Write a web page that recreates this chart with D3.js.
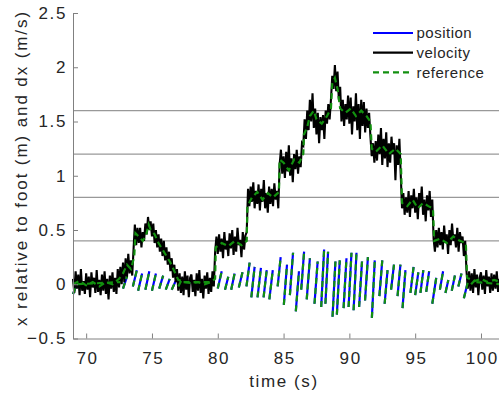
<!DOCTYPE html>
<html>
<head>
<meta charset="utf-8">
<script src="https://cdn.jsdelivr.net/npm/d3@7/dist/d3.min.js"></script>
<style>
  body { margin: 0; background: #fff; }
  svg { display: block; }
  text { font-family: "Liberation Sans", Arial, Helvetica, sans-serif; fill: #262626; }
</style>
</head>
<body>
<svg id="chart" width="499" height="400"></svg>
<script>
// ---- data ----------------------------------------------------------
const xTicks = [70, 75, 80, 85, 90, 95, 100];
const yTicks = [-0.5, 0, 0.5, 1, 1.5, 2, 2.5];
const levelLines = [0.4, 0.8, 1.2, 1.6];

// measured treadmill velocity, sampled every 0.1 s from 69.0 s
const velStart = 69.0;
const velStep = 0.1;
const velocity = [
  0.05,-0.08,0.12,-0.04,0.09,-0.10,0.14,-0.06,0.03,-0.09,
  0.10,-0.05,0.07,-0.12,0.11,-0.03,0.06,-0.08,0.13,-0.07,
  0.04,-0.10,0.09,-0.06,0.12,-0.09,0.05,-0.14,0.08,-0.04,
  0.11,-0.07,0.06,-0.09,0.14,-0.03,0.16,0.00,0.20,0.02,
  0.24,0.06,0.28,0.10,0.22,0.08,0.32,0.55,0.36,0.52,
  0.38,0.52,0.34,0.48,0.40,0.56,0.46,0.62,0.50,0.58,
  0.44,0.56,0.38,0.50,0.34,0.46,0.30,0.42,0.26,0.40,
  0.22,0.34,0.18,0.30,0.12,0.24,0.06,0.18,0.02,0.14,
  -0.06,0.10,-0.08,0.07,-0.10,0.12,-0.05,0.08,-0.12,0.06,
  0.09,-0.07,0.04,-0.11,0.10,-0.06,0.13,-0.08,0.05,-0.13,
  0.08,-0.04,0.11,-0.09,0.06,-0.07,0.12,-0.02,0.30,0.44,
  0.28,0.46,0.30,0.42,0.24,0.48,0.32,0.40,0.26,0.47,
  0.33,0.50,0.27,0.44,0.30,0.52,0.36,0.41,0.25,0.48,
  0.32,0.45,0.48,0.88,0.72,0.90,0.76,0.94,0.70,0.86,
  0.74,0.92,0.68,0.88,0.76,0.96,0.70,0.84,0.66,0.90,
  0.74,0.88,0.72,0.93,0.78,0.86,0.70,1.10,1.24,1.02,
  1.18,0.98,1.22,1.04,1.28,1.00,1.16,0.94,1.20,1.06,
  1.24,1.02,1.18,1.08,1.30,1.28,1.52,1.34,1.60,1.42,
  1.70,1.50,1.76,1.44,1.62,1.38,1.58,1.30,1.54,1.42,
  1.56,1.34,1.60,1.48,1.66,1.52,1.70,1.92,1.80,2.02,
  1.78,1.96,1.70,1.82,1.50,1.70,1.46,1.66,1.52,1.74,
  1.48,1.72,1.38,1.64,1.50,1.76,1.42,1.66,1.34,1.70,
  1.46,1.68,1.40,1.62,1.44,1.58,1.36,1.18,1.30,1.12,
  1.32,1.14,1.38,1.20,1.44,1.10,1.34,1.16,1.40,1.08,
  1.30,1.12,1.36,1.20,1.30,0.96,1.28,1.10,1.34,1.02,
  0.70,0.84,0.64,0.80,0.66,0.86,0.62,0.82,0.70,0.88,
  0.66,0.80,0.60,0.84,0.72,0.90,0.64,0.78,0.58,0.82,
  0.68,0.86,0.62,0.78,0.42,0.30,0.50,0.34,0.52,0.36,
  0.48,0.32,0.54,0.38,0.46,0.28,0.50,0.36,0.56,0.40,
  0.46,0.34,0.52,0.30,0.48,0.38,0.44,0.26,0.40,0.12,
  -0.04,0.12,-0.06,0.10,-0.08,0.14,-0.03,0.09,-0.10,0.06,
  0.11,-0.05,0.08,-0.09,0.13,-0.02,0.07,-0.08,0.10,-0.06,
  0.09,-0.04,0.12,-0.07,0.05,-0.02
];

// commanded (reference) belt speed
const refVelTime = [
  69.0,69.5,70.0,70.5,71.0,71.5,72.0,72.5,72.8,73.1,73.4,73.65,73.75,74.0,74.3,74.55,74.75,74.9,
  75.2,75.5,75.8,76.1,76.4,76.7,77.0,77.5,78.0,78.5,79.0,79.5,79.8,79.85,80.3,80.8,81.3,81.8,82.2,
  82.25,82.6,83.0,83.4,83.8,84.2,84.65,84.7,85.0,85.4,85.8,86.2,86.5,86.55,86.8,87.0,87.3,87.5,87.9,
  88.3,88.6,88.7,88.9,89.1,89.3,89.7,90.1,90.5,90.9,91.3,91.6,91.7,92.0,92.5,93.0,93.5,93.9,94.0,
  94.4,94.8,95.2,95.6,96.0,96.35,96.45,96.9,97.4,97.9,98.4,98.85,98.95,99.5,100.0,100.5,101.0,101.5
];
const refVelValue = [
  0.00,0.03,-0.01,0.02,-0.02,0.02,0.00,0.05,0.10,0.18,0.14,0.25,0.47,0.44,0.40,0.45,0.55,0.50,
  0.46,0.38,0.32,0.26,0.20,0.12,0.04,0.02,0.01,0.02,0.00,0.02,0.05,0.34,0.38,0.35,0.40,0.36,0.40,
  0.72,0.80,0.85,0.78,0.84,0.80,0.85,1.15,1.12,1.05,1.15,1.12,1.20,1.38,1.45,1.55,1.60,1.52,1.48,
  1.55,1.62,1.85,1.90,1.80,1.62,1.58,1.62,1.55,1.60,1.55,1.50,1.25,1.22,1.28,1.20,1.25,1.20,0.75,
  0.72,0.78,0.70,0.75,0.72,0.70,0.40,0.42,0.38,0.44,0.40,0.38,0.06,0.03,0.05,0.02,0.04,0.02
];

// position of x relative to the stance foot, one stretch per stance phase
const stepStart = [
  69.00,69.30,72.80,73.55,73.95,74.50,75.00,75.55,76.05,76.50,77.00,77.40,80.00,80.55,81.02,81.60,
  82.18,82.55,83.02,83.48,83.92,84.55,85.02,85.48,85.93,86.34,86.76,87.35,87.86,88.18,88.72,89.05,
  89.56,89.94,90.32,90.74,91.19,91.71,92.28,92.68,93.17,93.66,94.04,94.64,95.00,95.40,95.84,96.30,
  96.88,97.30,97.78,98.28,98.70,99.25,99.65
];
const stepEnd = [
  69.25,72.60,73.10,73.85,74.25,74.80,75.30,75.85,76.35,76.80,77.30,79.60,80.30,80.80,81.28,81.88,
  82.42,82.80,83.28,83.72,84.18,84.78,85.26,85.72,86.17,86.56,87.00,87.59,88.08,88.38,88.94,89.27,
  89.78,90.16,90.54,90.96,91.41,91.93,92.50,92.90,93.39,93.88,94.26,94.88,95.24,95.62,96.06,96.60,
  97.12,97.52,98.02,98.52,99.00,99.55,101.50
];
const stepFrom = [
  -0.09,0.00,-0.04,-0.02,-0.06,-0.05,-0.06,-0.04,-0.05,-0.05,-0.02,0.02,-0.04,-0.05,-0.05,-0.03,
  -0.02,-0.12,-0.12,-0.12,-0.14,-0.02,-0.19,-0.10,-0.25,-0.05,-0.14,-0.18,-0.21,-0.18,-0.30,-0.28,
  -0.22,-0.21,-0.24,-0.21,-0.15,-0.31,-0.11,-0.18,-0.05,-0.11,-0.22,-0.08,-0.10,-0.08,-0.07,-0.18,
  -0.05,-0.08,-0.06,-0.02,-0.13,0.00,0.02
];
const stepTo = [
  -0.01,0.02,0.07,0.13,0.10,0.12,0.10,0.08,0.05,0.03,0.05,0.02,0.12,0.07,0.10,0.11,
  0.20,0.16,0.15,0.13,0.13,0.25,0.18,0.29,0.12,0.30,0.24,0.21,0.32,0.30,0.21,0.22,
  0.24,0.29,0.29,0.21,0.25,0.22,0.22,0.13,0.18,0.18,0.13,0.16,0.11,0.13,0.12,0.06,
  0.12,0.04,0.08,0.10,0.02,0.04,0.00
];

const legendLabels = ["position", "velocity", "reference"];

// ---- layout --------------------------------------------------------
const svg = d3.select("#chart");
const plotLeft = 73, plotTop = 13, plotBottom = 338.5, plotRight = 507.3;

const x = d3.scaleLinear().domain([69, 102]).range([plotLeft, plotRight]);
const y = d3.scaleLinear().domain([-0.5, 2.5]).range([plotBottom, plotTop]);

const labelFont = { size: 17, spacing: 1.6 };

// horizontal guide lines
svg.append("g").selectAll("line").data(levelLines).join("line")
  .attr("x1", plotLeft).attr("x2", 499)
  .attr("y1", d => y(d)).attr("y2", d => y(d))
  .attr("stroke", "#999").attr("stroke-width", 1.2);

// series
const velData = velocity.map((v, i) => ({ t: velStart + i * velStep, v }));
const refVelData = refVelTime.map((t, i) => ({ t, v: refVelValue[i] }));
const posData = [];
stepStart.forEach((t0, i) => {
  posData.push({ t: t0, v: stepFrom[i] });
  posData.push({ t: stepEnd[i], v: stepTo[i] });
  posData.push({ t: stepEnd[i], v: null });
});

const line = d3.line()
  .defined(d => d.v !== null)
  .x(d => x(d.t))
  .y(d => y(d.v));

const plot = svg.append("g");
plot.append("path").datum(posData).attr("d", line)
  .attr("fill", "none").attr("stroke", "#0000ff").attr("stroke-width", 2.2);
plot.append("path").datum(velData).attr("d", line)
  .attr("fill", "none").attr("stroke", "#000").attr("stroke-width", 2.1)
  .attr("stroke-linejoin", "miter");
plot.append("path").datum(refVelData).attr("d", line)
  .attr("fill", "none").attr("stroke", "#12900f").attr("stroke-width", 2.2)
  .attr("stroke-dasharray", "6,4");
plot.append("path").datum(posData).attr("d", line)
  .attr("fill", "none").attr("stroke", "#12900f").attr("stroke-width", 2.2)
  .attr("stroke-dasharray", "6,4");

// axes
const xAxis = d3.axisBottom(x).tickValues(xTicks).tickSizeInner(-5).tickSizeOuter(0).tickPadding(13);
const yAxis = d3.axisLeft(y).tickValues(yTicks).tickSizeInner(-5).tickSizeOuter(0).tickPadding(6)
  .tickFormat(d => d3.format("")(d));

const gx = svg.append("g").attr("transform", `translate(0,${plotBottom})`).call(xAxis);
const gy = svg.append("g").attr("transform", `translate(${plotLeft},0)`).call(yAxis);
[gx, gy].forEach(g => {
  g.select(".domain").attr("stroke", "#808080").attr("stroke-width", 1);
  g.selectAll(".tick line").attr("stroke", "#808080");
  g.selectAll(".tick text")
    .attr("fill", "#262626")
    .style("font-size", labelFont.size + "px")
    .style("letter-spacing", labelFont.spacing + "px")
    .style("font-family", '"Liberation Sans", Arial, sans-serif');
});
gx.selectAll(".tick text").attr("dx", labelFont.spacing / 2);

// axis titles
svg.append("text")
  .attr("x", 284).attr("y", 387)
  .attr("text-anchor", "middle")
  .style("font-size", labelFont.size + "px")
  .style("letter-spacing", labelFont.spacing + "px")
  .text("time (s)");

svg.append("text")
  .attr("transform", "translate(27,168) rotate(-90)")
  .attr("text-anchor", "middle")
  .style("font-size", labelFont.size + "px")
  .style("letter-spacing", "1.9px")
  .text("x relative to foot (m) and dx (m/s)");

// legend
const legendStyles = [
  { stroke: "#0000ff", dash: null },
  { stroke: "#000", dash: null },
  { stroke: "#12900f", dash: "6,4" }
];
const legend = svg.append("g");
legendLabels.forEach((label, i) => {
  const ly = 33 + i * 19.7;
  legend.append("line")
    .attr("x1", 373).attr("x2", 413).attr("y1", ly).attr("y2", ly)
    .attr("stroke", legendStyles[i].stroke).attr("stroke-width", 2.2)
    .attr("stroke-dasharray", legendStyles[i].dash);
  legend.append("text")
    .attr("x", 416.5).attr("y", ly).attr("dy", "0.35em")
    .style("font-size", "15px").style("letter-spacing", "0.5px")
    .text(label);
});
</script>
</body>
</html>
